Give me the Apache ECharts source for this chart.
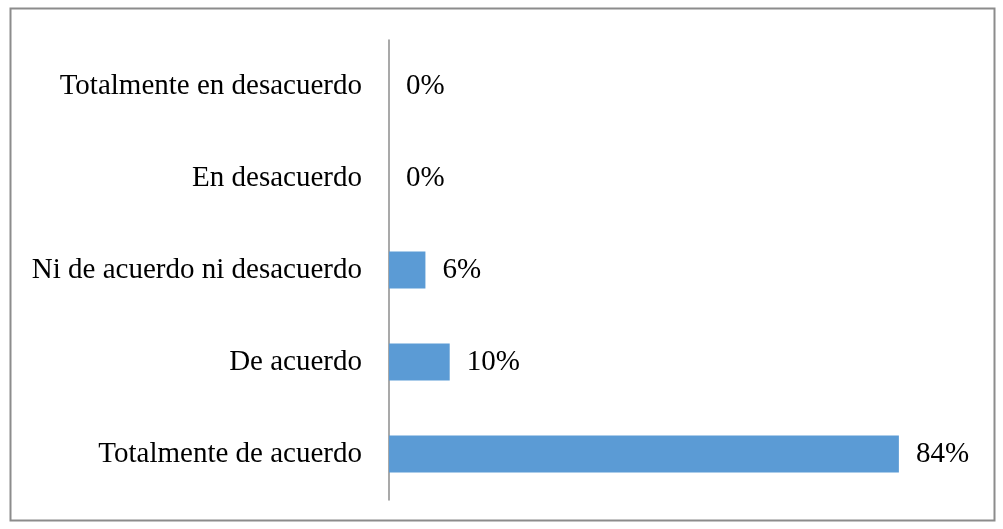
<!DOCTYPE html>
<html>
<head>
<meta charset="utf-8">
<script src="https://cdn.jsdelivr.net/npm/echarts@6/dist/echarts.min.js"></script>
<style>
  html, body { margin: 0; padding: 0; background: #fff; }
  #chart { width: 1003px; height: 529px; }
</style>
</head>
<body>
<div id="chart"></div>
<script>
// categories from top to bottom as seen in the picture
const categories = [
  "Totalmente en desacuerdo",
  "En desacuerdo",
  "Ni de acuerdo ni desacuerdo",
  "De acuerdo",
  "Totalmente de acuerdo"
];
const percents = [0, 0, 6, 10, 84];

const chart = echarts.init(document.getElementById("chart"));
const font = "'Liberation Serif', 'Times New Roman', serif";

chart.setOption({
  animation: false,
  graphic: [
    {
      type: "rect",
      shape: { x: 10.5, y: 8.5, width: 984, height: 512 },
      style: { fill: "none", stroke: "#8c8c8c", lineWidth: 2 },
      silent: true
    }
  ],
  grid: {
    left: 389,
    top: 40,
    width: 607,
    height: 460
  },
  xAxis: {
    type: "value",
    min: 0,
    max: 100,
    show: false
  },
  yAxis: {
    type: "category",
    inverse: true,
    data: categories,
    axisLine: { show: true, lineStyle: { color: "#8c8c8c", width: 1.5 } },
    axisTick: { show: false },
    axisLabel: {
      margin: 27,
      color: "#000",
      fontFamily: font,
      fontSize: 29
    }
  },
  series: [
    {
      type: "bar",
      data: percents,
      barWidth: "40%",
      itemStyle: { color: "#5b9bd5" },
      label: {
        show: true,
        position: "right",
        distance: 17,
        color: "#000",
        fontFamily: font,
        fontSize: 29,
        formatter: p => p.value + "%"
      }
    }
  ]
});
</script>
</body>
</html>
